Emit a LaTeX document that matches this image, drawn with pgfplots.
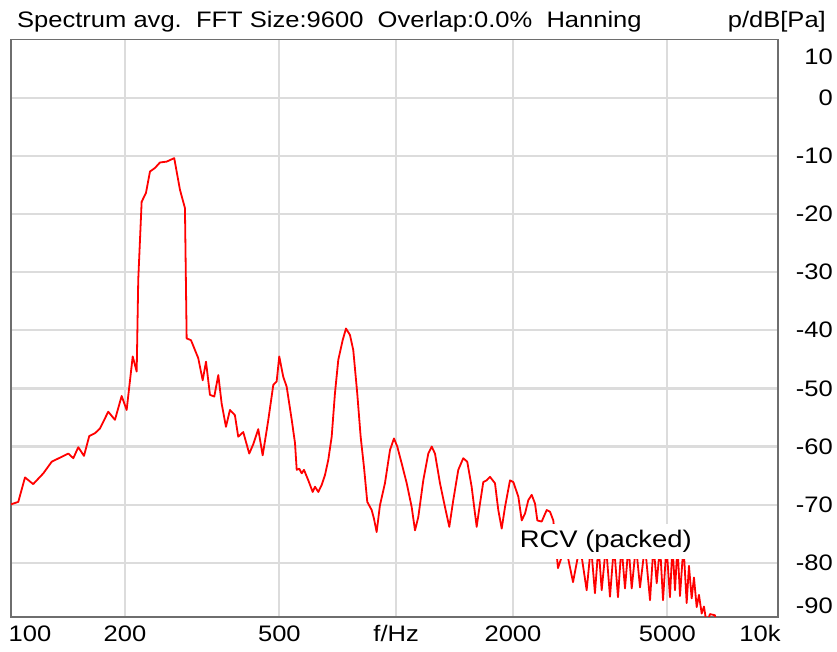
\documentclass[border=0pt]{standalone}
\usepackage{fontspec}
\setmainfont{Liberation Sans}[FakeStretch=1.14]
\usepackage{pgfplots}
\pgfplotsset{compat=1.18}
\definecolor{gridgray}{RGB}{220,220,220}
\definecolor{framegray}{RGB}{110,110,110}
\begin{document}
\begin{tikzpicture}[font=\fontsize{22.4}{26}\selectfont]
\path[use as bounding box] (-11pt,-35pt) rectangle (826pt,617pt);
\begin{axis}[
  at={(0pt,0pt)}, anchor=south west,
  scale only axis, width=767pt, height=577.5pt,
  xmode=log, log basis x=10,
  xmin=101.7, xmax=9640, ymin=-89.3, ymax=10,
  axis line style={draw=framegray, line width=1.5pt},
  grid=major,
  major grid style={draw=gridgray, line width=2.2pt},
  major tick length=0pt,
  xtick={200,500,1000,2000,5000},
  xticklabels={200,500,f/Hz,2000,5000},
  extra x ticks={113.8,8661},
  extra x tick labels={100,10k},
  extra x tick style={grid=none},
  ytick={-80,-70,-60,-50,-40,-30,-20,-10,0},
  yticklabels={-80,-70,-60,-50,-40,-30,-20,-10,0},
  extra y ticks={-87.3,7.05},
  extra y tick labels={-90,10},
  extra y tick style={grid=none},
  yticklabel pos=right,
  yticklabel style={anchor=east, inner sep=0pt, xshift=55pt},
  xticklabel style={anchor=base, inner sep=0pt, yshift=-25pt},
  clip=true,
]
\addplot[red, line width=1.8pt, line join=round, mark=none] coordinates {
(100,-70.1) (106.2,-69.5) (110.5,-65.3) (116.0,-66.45) (123.2,-64.6)
(129.5,-62.6) (136.0,-61.9) (142.9,-61.2) (147.2,-62.0) (151.6,-60.1)
(156.8,-61.6) (161.8,-58.2) (167.4,-57.7) (172.4,-56.9) (181.1,-54.0)
(188.5,-55.4) (196.1,-51.3) (202.0,-53.7) (209.4,-44.5) (214.4,-47.1)
(216.4,-31.3) (220.8,-17.9) (226.5,-16.4) (232.0,-12.7) (238.9,-12.1)
(246.1,-11.15) (256.1,-11.0) (267.9,-10.4) (277.2,-15.85) (285.5,-19.0)
(288.4,-41.4) (295.9,-41.7) (303.0,-43.4) (309.0,-44.8) (317.2,-48.6)
(323.5,-45.4) (331.2,-51.1) (339.8,-51.4) (348.0,-47.7) (355.0,-52.6)
(364.2,-56.6) (372.9,-53.7) (384.1,-54.6) (391.7,-58.3) (403.5,-57.5)
(418.1,-61.2) (428.2,-59.6) (441.1,-57.0) (452.8,-61.5) (463.7,-57.2)
(468.2,-55.4) (482.3,-49.4) (492.0,-48.8) (499.6,-44.5) (511.6,-48.0)
(522.1,-49.7) (538.0,-55.4) (548.6,-59.4) (554.2,-64.0) (562.8,-63.8)
(570.8,-64.6) (578.7,-64.0) (593.6,-65.8) (609.3,-67.8) (617.7,-66.9)
(629.9,-67.8) (642.7,-66.6) (655.4,-64.9) (668.3,-62.3) (682.0,-58.3)
(695.5,-50.8) (709.2,-45.1) (728.0,-41.7) (742.4,-39.7) (760.2,-40.8)
(775.2,-43.4) (793.7,-50.8) (809.9,-58.3) (826.0,-63.5) (842.3,-69.5)
(864.6,-70.9) (876.5,-72.4) (890.5,-74.7) (908.1,-70.1) (935.5,-66.3)
(963.9,-60.6) (987.0,-58.6) (1006.5,-60.0) (1033.2,-62.9) (1064.4,-66.3)
(1096.4,-70.4) (1118.2,-74.4) (1140.3,-72.1) (1174.5,-65.8) (1209.9,-61.2)
(1234.6,-60.0) (1258.9,-61.2) (1296.9,-66.3) (1335.9,-70.4) (1370.5,-73.8)
(1403.4,-69.2) (1445.7,-64.0) (1489.0,-62.0) (1524.8,-62.6) (1564.9,-66.9)
(1612.4,-73.8) (1644.3,-69.8) (1676.8,-66.1) (1710.8,-65.8) (1745.0,-65.2)
(1797.4,-66.3) (1833.0,-70.9) (1870.5,-74.1) (1907.4,-70.4) (1965.0,-65.8)
(2003.9,-66.1) (2064.3,-68.6) (2106.5,-72.7) (2148.2,-71.5) (2190.7,-69.2)
(2235.1,-68.3) (2279.3,-69.8) (2310.9,-72.7) (2371.4,-72.9) (2443.0,-70.9)
(2491.3,-71.2) (2540.6,-72.7) (2575,-76.5) (2612,-80.9) (2731,-77)
(2856,-83.3) (2977,-77) (3097,-84.7) (3177,-77) (3253,-85.2)
(3322,-77) (3386,-84.7) (3473,-77) (3557,-85.8) (3642,-77)
(3730,-85.9) (3808,-77) (3888,-84.4) (3970,-77) (4046,-84.4)
(4150,-77) (4250,-84.2) (4378,-77) (4510,-86.4) (4605,-77)
(4693,-83.5) (4786,-77) (4872,-86.4) (4973,-77) (5077,-85.9)
(5153,-77) (5231,-84.7) (5309,-77) (5388,-85.7) (5501,-77)
(5606,-86.9) (5683,-80.5) (5775,-86.1) (5854,-82.5) (5949,-87.6)
(6031,-85.5) (6128,-88.7) (6212,-87.5) (6313,-90.5) (6437,-88.8)
(6631,-89.0) (6751,-93)
};
\node[fill=white, inner xsep=3pt, inner ysep=6pt, font=\fontsize{24}{28}\selectfont] at (axis cs:3470,-76.3) {RCV (packed)};
\end{axis}
\node[anchor=base west, inner sep=0pt] at (6pt,589pt) {Spectrum avg.\ \ FFT Size:9600\ \ Overlap:0.0\%\ \ Hanning};
\node[anchor=base east, inner sep=0pt] at (815pt,589pt) {p/dB[Pa]};
\end{tikzpicture}
\end{document}
